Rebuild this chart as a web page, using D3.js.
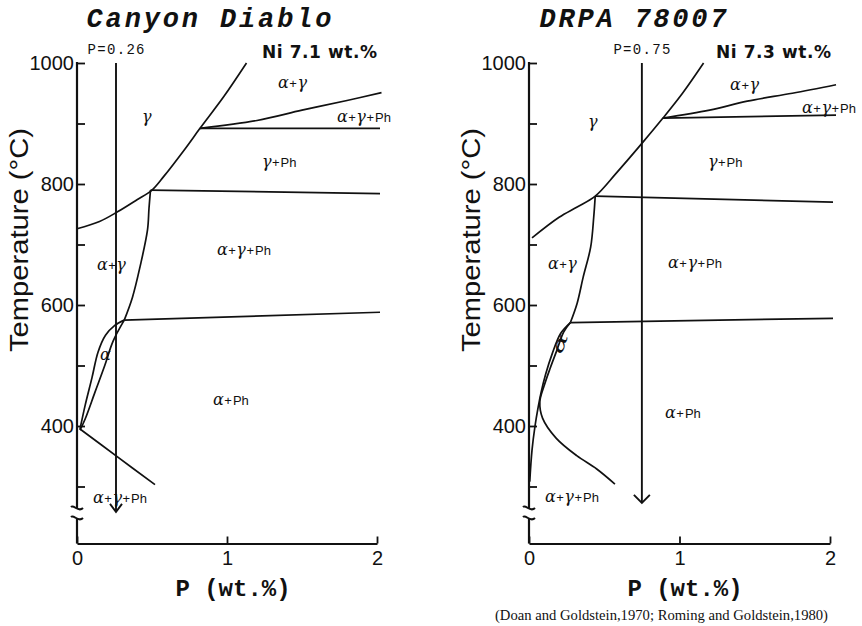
<!DOCTYPE html>
<html><head><meta charset="utf-8">
<script src="https://cdn.jsdelivr.net/npm/d3@7"></script>
<style>body{margin:0;background:#fff} svg{display:block}</style>
</head><body>
<svg id="c" width="862" height="626"></svg>
<script>
// ---------------- data ----------------
const tempTicks = [300, 400, 500, 600, 700, 800, 900, 1000];
const tempTickLabels = [400, 600, 800, 1000];
const pTicks = [0, 1, 2];
const xAxisTitle = "P (wt.%)";
const yAxisTitle = "Temperature (°C)";
const citation = "(Doan and Goldstein,1970; Roming and Goldstein,1980)";

// Canyon Diablo (Ni 7.1 wt.%)
const cdTitle = "Canyon Diablo";
const cdNi = "Ni 7.1 wt.%";
const cdP = 0.26;
const cdPLabel = "P=0.26";
const cdArrowEnd = 258;
const cdGammaBoundary = [[0,726],[0.15,738],[0.27,754],[0.4,774],[0.5,790],[0.58,813],[0.72,858],[0.82,892],[0.98,945],[1.13,1000]];
const cdUpperPh = [[0.82,892],[1.2,905],[1.5,922],[1.8,938],[2.03,951]];
const cdHoriz890 = [[0.82,892],[2.02,892]];
const cdHoriz790 = [[0.49,790],[2.02,784]];
const cdAGBoundary = [[0.49,790],[0.48,760],[0.47,724],[0.42,663],[0.37,613],[0.315,575]];
const cdHoriz580 = [[0.315,575],[2.02,588]];
const cdAlphaLeft = [[0.315,575],[0.25,566],[0.19,550],[0.14,522],[0.1,480],[0.055,435],[0.02,395]];
const cdAlphaRight = [[0.315,575],[0.24,540],[0.185,500],[0.12,456],[0.055,412],[0.02,393]];
const cdLowBoundary = [[0.02,395],[0.27,349],[0.52,303]];
const cdLabels = [
  ["α+γ", 1.34, 958.7], ["α+γ+Ph", 1.733, 902.5], ["γ", 0.433, 902.5],
  ["γ+Ph", 1.233, 828], ["α+γ+Ph", 0.933, 682.6], ["α+γ", 0.133, 657.9],
  ["α", 0.153, 509], ["α+Ph", 0.907, 434.7], ["α+γ+Ph", 0.107, 273]
];

// DRPA 78007 (Ni 7.3 wt.%)
const drTitle = "DRPA 78007";
const drNi = "Ni 7.3 wt.%";
const drP = 0.75;
const drPLabel = "P=0.75";
const drArrowEnd = 273;
const drGammaBoundary = [[0.02,711],[0.2,745],[0.32,762],[0.44,780],[0.58,818],[0.76,870],[0.89,909],[1.02,950],[1.16,1000]];
const drUpperPh = [[0.89,909],[1.2,922],[1.45,937],[1.75,950],[2.04,964]];
const drHoriz910 = [[0.89,909],[2.04,914]];
const drHoriz780 = [[0.44,780],[2.02,770]];
const drAGBoundary = [[0.44,780],[0.43,745],[0.41,696],[0.36,646],[0.32,603],[0.275,571]];
const drHoriz575 = [[0.275,571],[2.02,578]];
const drAlphaLeft = [[0.275,571],[0.21,553],[0.155,520],[0.11,485],[0.08,455],[0.06,430],[0.04,400],[0.02,360],[0.005,308]];
const drAlphaNose = [[0.275,571],[0.23,555],[0.185,525],[0.14,495],[0.1,466],[0.072,440],[0.09,413],[0.18,380],[0.317,351],[0.45,329],[0.571,304]];
const drLabels = [
  ["α+γ", 1.336, 955.4], ["α+γ+Ph", 1.814, 917.4], ["γ", 0.392, 894.2],
  ["γ+Ph", 1.189, 828], ["α+γ+Ph", 0.924, 661.2], ["α+γ", 0.126, 659.5],
  ["α", 0.21, 536, -70], ["α+Ph", 0.904, 413], ["α+γ+Ph", 0.106, 274.4]
];

// ---------------- drawing ----------------
const svg = d3.select("#c");
svg.append("rect").attr("width", 862).attr("height", 626).attr("fill", "#fff");
const ink = "#111";
const y = d3.scaleLinear().domain([300, 1000]).range([486.5, 63]);
const xAxisY = 543.5;

const panels = [
  { title: cdTitle, titleX: 209, titleLen: 245, ni: cdNi, niX: 262, p: cdP, pLabel: cdPLabel, arrowEnd: cdArrowEnd, arm: 6,
    xRange: [77, 377], yLabelX: 28, xLabelX: 233,
    curves: [cdGammaBoundary, cdUpperPh, cdHoriz890, cdHoriz790, cdAGBoundary, cdHoriz580, cdAlphaLeft, cdAlphaRight, cdLowBoundary],
    labels: cdLabels },
  { title: drTitle, titleX: 633, titleLen: 187, ni: drNi, niX: 716, p: drP, pLabel: drPLabel, arrowEnd: drArrowEnd, arm: 8,
    xRange: [529, 830], yLabelX: 480, xLabelX: 685,
    curves: [drGammaBoundary, drUpperPh, drHoriz910, drHoriz780, drAGBoundary, drHoriz575, drAlphaLeft, drAlphaNose],
    labels: drLabels }
];

function drawLabel(g, str, px, py, rot) {
  const t = g.append("text").attr("fill", ink);
  if (rot) {
    t.attr("text-anchor", "middle").attr("dominant-baseline", "middle")
      .attr("transform", `translate(${px},${py}) rotate(${rot}) scale(1.9,1)`);
  } else {
    t.attr("x", px).attr("y", py);
  }
  (str.match(/Ph|[αγ]|\+/g) || []).forEach((tok, i) => {
    const s = t.append("tspan").text(tok);
    if (tok === "Ph") s.attr("font-family", "Liberation Sans").attr("font-size", 13).attr("dx", 1);
    else if (tok === "+") s.attr("font-family", "Liberation Sans").attr("font-size", 13).attr("dx", 0.5);
    else s.attr("font-family", "DejaVu Serif").attr("font-style", "italic").attr("font-size", 16).attr("dx", i ? 0.5 : 0);
  });
}

panels.forEach(p => {
  const x = d3.scaleLinear().domain([0, 2]).range(p.xRange);
  const g = svg.append("g");
  const line = d3.line().x(d => x(d[0])).y(d => y(d[1])).curve(d3.curveCatmullRom.alpha(0.5));

  // title
  g.append("text").attr("x", p.titleX).attr("y", 27).attr("text-anchor", "middle")
    .attr("font-family", "Liberation Mono").attr("font-weight", "bold").attr("font-style", "italic")
    .attr("font-size", 27).attr("textLength", p.titleLen).attr("lengthAdjust", "spacing")
    .attr("fill", ink).text(p.title);

  // Ni label
  g.append("text").attr("x", p.niX).attr("y", 58).attr("font-family", "DejaVu Sans").attr("font-weight", "bold")
    .attr("font-size", 17).attr("textLength", 115).attr("lengthAdjust", "spacing").attr("fill", ink).text(p.ni);

  // y axis ticks + labels
  const yAxis = d3.axisLeft(y).tickValues(tempTicks).tickSizeInner(-8).tickSizeOuter(0).tickPadding(3)
    .tickFormat(d => tempTickLabels.includes(d) ? d : "");
  const ya = g.append("g").attr("transform", `translate(${x(0)},0)`).call(yAxis);
  ya.select(".domain").remove();
  ya.selectAll("line").attr("stroke", ink).attr("stroke-width", 1.8);
  ya.selectAll("text").attr("font-family", "Liberation Sans").attr("font-size", 20).attr("fill", ink);

  // y axis line with break
  const x0 = x(0);
  g.append("line").attr("x1", x0).attr("x2", x0).attr("y1", y(1000) - 1).attr("y2", 509)
    .attr("stroke", ink).attr("stroke-width", 2.2);
  g.append("line").attr("x1", x0).attr("x2", x0).attr("y1", 519).attr("y2", xAxisY)
    .attr("stroke", ink).attr("stroke-width", 2.2);
  [509, 519].forEach(by => {
    g.append("path").attr("d", `M${x0 - 6},${by - 2} C${x0 - 3},${by - 5} ${x0 + 1},${by + 4} ${x0 + 6},${by - 1}`)
      .attr("fill", "none").attr("stroke", ink).attr("stroke-width", 2);
  });

  // x axis
  const xAxis = d3.axisBottom(x).tickValues(pTicks).tickSizeInner(-7).tickSizeOuter(0).tickPadding(7)
    .tickFormat(d3.format("d"));
  const xa = g.append("g").attr("transform", `translate(0,${xAxisY})`).call(xAxis);
  xa.select(".domain").attr("stroke", ink).attr("stroke-width", 2.2);
  xa.selectAll("line").attr("stroke", ink).attr("stroke-width", 1.8);
  xa.selectAll("text").attr("font-family", "Liberation Sans").attr("font-size", 20).attr("fill", ink);

  // axis titles
  g.append("text").attr("transform", `translate(${p.yLabelX},240) rotate(-90)`).attr("text-anchor", "middle")
    .attr("font-family", "Liberation Sans").attr("font-size", 26)
    .attr("textLength", 224).attr("lengthAdjust", "spacingAndGlyphs").attr("fill", ink).text(yAxisTitle);
  g.append("text").attr("x", p.xLabelX).attr("y", 596).attr("text-anchor", "middle")
    .attr("font-family", "Liberation Mono").attr("font-weight", "bold").attr("font-size", 24)
    .attr("fill", ink).text(xAxisTitle);

  // phase boundaries
  p.curves.forEach(c => {
    g.append("path").attr("d", line(c)).attr("fill", "none").attr("stroke", ink).attr("stroke-width", 1.7);
  });

  // P composition line with arrow
  const px = x(p.p), tip = y(p.arrowEnd);
  g.append("line").attr("x1", px).attr("x2", px).attr("y1", y(1000)).attr("y2", tip)
    .attr("stroke", ink).attr("stroke-width", 1.9);
  g.append("path").attr("d", `M${px - p.arm},${tip - 8} L${px},${tip} L${px + p.arm},${tip - 8}`)
    .attr("fill", "none").attr("stroke", ink).attr("stroke-width", 1.9);
  g.append("text").attr("x", px).attr("y", 54).attr("text-anchor", "middle")
    .attr("font-family", "Liberation Mono").attr("font-size", 14)
    .attr("textLength", 57).attr("lengthAdjust", "spacing").attr("fill", ink).text(p.pLabel);

  // region labels
  p.labels.forEach(l => drawLabel(g, l[0], x(l[1]), y(l[2]), l[3]));
});

svg.append("text").attr("x", 495).attr("y", 620).attr("font-family", "Liberation Serif").attr("font-size", 14)
  .attr("textLength", 333).attr("lengthAdjust", "spacingAndGlyphs").attr("fill", ink).text(citation);
</script>
</body></html>
